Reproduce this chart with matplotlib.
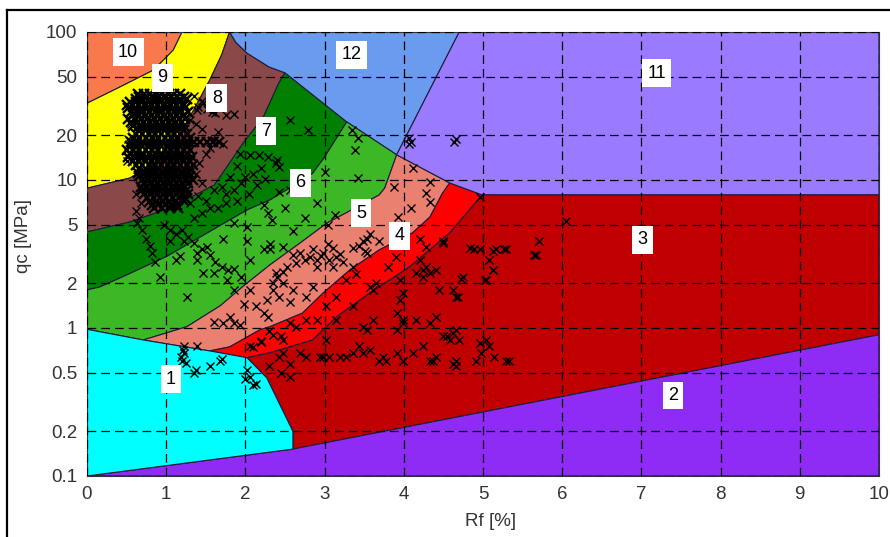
import matplotlib
matplotlib.use('Agg')
import matplotlib.pyplot as plt
from matplotlib.lines import Line2D
from matplotlib.ticker import FixedLocator, FixedFormatter, NullLocator

plt.rcParams['font.family'] = ['Liberation Sans', 'DejaVu Sans']

# zone boundaries (Rf [%], qc [MPa])
b_10_9 = [(0, 33), (0.42, 42.6), (0.84, 55.3), (1.09, 75.5), (1.2, 100)]
b_9_8 = [(0, 8.8), (0.54, 10.3), (0.92, 13.6), (1.17, 20.1), (1.36, 30.6),
         (1.55, 47.4), (1.70, 70), (1.80, 100)]
b_8_12 = [(1.80, 100), (1.88, 85), (2.02, 72), (2.30, 58), (2.50, 53)]
b_8_7 = [(0, 4.46), (0.54, 5.2), (1.05, 6.47), (1.61, 9.25), (1.97, 17.7),
         (2.23, 26.8), (2.42, 45), (2.50, 53)]
b_7_12 = [(2.50, 53), (3.28, 24.7)]
b_7_6 = [(0, 1.81), (0.16, 1.89), (0.50, 2.28), (1.01, 3.05), (2.02, 6.27),
         (2.31, 7.33), (2.56, 8.83), (2.85, 11.1), (3.0, 14.3), (3.28, 24.7)]
b_12_6 = [(3.28, 24.7), (3.91, 14.8)]
b_12_11 = [(3.91, 14.8), (4.70, 100)]
b_6_5 = [(0.71, 0.83), (1.26, 1.02), (1.68, 1.41), (1.99, 1.95), (2.31, 2.67),
         (2.69, 3.75), (3.03, 5.12), (3.34, 6.27), (3.69, 7.93), (3.76, 8.83),
         (3.91, 14.8)]
b_11_5 = [(3.91, 14.8), (4.58, 9.55)]
b_5_4 = [(1.55, 0.70), (1.80, 0.745), (2.18, 0.97), (2.31, 1.02), (2.72, 1.26),
         (2.98, 1.72), (3.32, 2.47), (3.69, 3.37), (4.11, 4.39), (4.33, 5.62),
         (4.49, 8.17), (4.58, 9.55)]
b_11_4 = [(4.58, 9.55), (4.99, 7.93)]
b_4_3 = [(2.02, 0.63), (2.31, 0.68), (2.56, 0.745), (2.85, 0.83), (2.98, 0.97),
         (3.15, 1.19), (3.57, 1.72), (4.07, 2.58), (4.58, 4.39), (4.99, 7.93)]
b_1_3 = [(2.27, 0.46), (2.6, 0.2), (2.6, 0.152)]
b_2_3 = [(2.6, 0.152), (10, 0.9)]

zones = {
    10: [(0, 100)] + b_10_9,
    9: b_10_9 + b_9_8[::-1],
    8: b_9_8 + b_8_12 + b_8_7[::-1],
    7: b_8_7 + b_7_12 + b_7_6[::-1],
    12: b_8_12 + b_7_12 + b_12_6 + b_12_11,
    6: [(0, 0.98)] + b_7_6 + b_12_6 + b_6_5[::-1],
    5: b_6_5 + b_11_5 + b_5_4[::-1],
    4: b_5_4 + b_11_4 + b_4_3[::-1],
    11: b_12_11 + [(10, 100), (10, 7.93)] + b_11_4[::-1] + b_11_5[::-1],
    3: b_4_3 + [(10, 7.93), (10, 0.9)] + b_2_3[::-1] + b_1_3[::-1],
    2: [(0, 0.1), (10, 0.1)] + b_2_3[::-1],
    1: [(0, 0.1)] + b_2_3[:1] + b_1_3[::-1] + [(2.02, 0.63), (1.55, 0.70), (0.71, 0.83), (0, 0.98)],
}

zone_colors = {
    1: '#00FFFF', 2: '#8E2BF5', 3: '#C00000', 4: '#FF0000', 5: '#EA8070',
    6: '#3CB826', 7: '#007F00', 8: '#8A4848', 9: '#FFFF00', 10: '#F7794C',
    11: '#9A7BFF', 12: '#6A9BEE',
}

# zone number labels
zone_labels = [('10', 0.52, 73), ('9', 0.95, 48.9), ('8', 1.64, 35.8),
               ('7', 2.26, 21.4), ('6', 2.69, 9.55), ('5', 3.46, 5.98),
               ('4', 3.95, 4.19), ('12', 3.34, 70), ('11', 7.19, 52.8),
               ('3', 7.01, 3.94), ('2', 7.40, 0.35), ('1', 1.06, 0.45)]

# CPT data, dense part (qc, list of Rf)
blob_rows = [
    (38, [0.65, 0.72, 0.80, 0.88, 0.95, 1.03, 1.10, 1.18]),
    (36.5, [0.66, 0.74, 0.82, 0.90, 0.98, 1.06, 1.14, 1.22]),
    (35, [0.62, 0.70, 0.78, 0.86, 0.94, 1.02, 1.10, 1.18, 1.26]),
    (33.5, [0.54, 0.62, 0.70, 0.78, 0.86, 0.94, 1.02, 1.10, 1.18]),
    (32, [0.50, 0.58, 0.66, 0.74, 0.82, 0.90, 0.98, 1.06, 1.14, 1.22]),
    (30.5, [0.52, 0.60, 0.68, 0.76, 0.84, 0.92, 1.00, 1.08, 1.16, 1.24]),
    (29, [0.55, 0.62, 0.70, 0.78, 0.86, 0.94, 1.02, 1.10, 1.18, 1.28]),
    (27.5, [0.58, 0.66, 0.74, 0.82, 0.90, 0.98, 1.06, 1.14, 1.22]),
    (26, [0.52, 0.60, 0.68, 0.76, 0.84, 0.92, 1.00, 1.08, 1.16, 1.24]),
    (24.5, [0.56, 0.64, 0.72, 0.80, 0.88, 0.96, 1.04, 1.12, 1.20]),
    (23, [0.58, 0.66, 0.74, 0.82, 0.90, 0.98, 1.06, 1.14, 1.22]),
    (21.7, [0.66, 0.74, 0.82, 0.90, 0.98, 1.06, 1.14, 1.22]),
    (20.5, [0.62, 0.70, 0.78, 0.86, 0.94, 1.02, 1.10, 1.18, 1.26]),
    (19.2, [0.58, 0.66, 0.74, 0.82, 0.90, 0.98, 1.06, 1.14, 1.22, 1.30]),
    (18, [0.55, 0.63, 0.71, 0.79, 0.87, 0.95, 1.03, 1.11, 1.19, 1.27, 1.35,
          1.43, 1.51, 1.59, 1.67]),
    (17, [0.54, 0.62, 0.70, 0.78, 0.86, 0.94, 1.02, 1.10, 1.18, 1.26]),
    (16, [0.50, 0.58, 0.66, 0.74, 0.82, 0.90, 0.98, 1.06, 1.14, 1.22, 1.30]),
    (15.1, [0.54, 0.62, 0.70, 0.78, 0.86, 0.94, 1.02, 1.10, 1.18, 1.26]),
    (14.2, [0.52, 0.60, 0.68, 0.76, 0.84, 0.92, 1.00, 1.08, 1.16, 1.24, 1.32]),
    (13.4, [0.58, 0.66, 0.74, 0.82, 0.90, 0.98, 1.06, 1.14, 1.22, 1.30]),
    (12.6, [0.62, 0.70, 0.78, 0.86, 0.94, 1.02, 1.10, 1.18, 1.26, 1.34]),
    (11.9, [0.66, 0.74, 0.82, 0.90, 0.98, 1.06, 1.14, 1.22, 1.30]),
    (11.2, [0.65, 0.73, 0.81, 0.89, 0.97, 1.05, 1.13, 1.21, 1.29]),
    (10.6, [0.66, 0.74, 0.82, 0.90, 0.98, 1.06, 1.14, 1.22, 1.30]),
    (10, [0.70, 0.78, 0.86, 0.94, 1.02, 1.10, 1.18, 1.26, 1.34]),
    (9.5, [0.72, 0.80, 0.88, 0.96, 1.04, 1.12, 1.20, 1.28]),
    (9, [0.68, 0.76, 0.84, 0.92, 1.00, 1.08, 1.16, 1.24]),
    (8.5, [0.70, 0.78, 0.86, 0.94, 1.02, 1.10, 1.18, 1.26]),
    (8, [0.72, 0.80, 0.88, 0.96, 1.04, 1.12, 1.20, 1.28]),
    (7.6, [0.76, 0.84, 0.92, 1.00, 1.08, 1.16, 1.24]),
    (7.2, [0.80, 0.88, 0.96, 1.04, 1.12, 1.22]),
    (6.8, [0.82, 0.90, 0.98, 1.06, 1.14]),
    (6.5, [0.85, 0.95, 1.05, 1.15]),
]

pts_zone8 = [(1.25, 36), (1.35, 37), (1.45, 34), (1.40, 31), (1.52, 30), (1.62, 28.5),
             (1.75, 27.5), (1.85, 28), (1.39, 29.7), (1.58, 28.9), (1.47, 33), (1.30, 25.5),
             (1.38, 24), (1.45, 22), (1.6, 18.5), (1.72, 17.5), (1.5, 15), (1.42, 13),
             (1.38, 11), (1.45, 9.5), (0.6, 28), (0.55, 24), (0.52, 19), (0.5, 13.5),
             (1.55, 16.5), (1.65, 21)]

pts_zone7 = [(1.93, 15.1), (2.06, 14.8), (2.17, 14.8), (2.29, 14.4), (2.40, 13.6),
             (2.42, 12.3), (2.39, 13.0), (2.56, 25.4), (2.79, 21.8), (2.43, 8.3),
             (2.56, 8.5), (2.65, 9.5), (0.62, 8.0), (0.68, 7.0), (0.62, 6.2), (0.66, 5.5),
             (0.63, 5.1), (0.70, 4.6), (0.75, 4.0), (0.80, 3.6), (0.82, 3.2), (0.86, 2.8),
             (1.2, 7.5), (1.3, 7.0), (1.4, 7.8), (1.5, 7.2), (1.55, 6.5), (1.45, 6.0),
             (1.35, 5.5), (1.6, 8.5), (1.7, 9.0), (1.75, 8.0), (1.85, 8.5), (1.95, 9.5),
             (2.0, 10.5), (2.1, 11), (2.2, 12), (1.9, 12.5), (2.25, 10.2), (1.8, 10.5),
             (2.05, 8.0), (1.65, 6.5), (1.75, 7.0), (1.9, 7.2), (2.15, 9.2)]

pts_zone6 = [(1.26, 1.63), (0.92, 2.2), (1.18, 3.05), (1.39, 2.9), (1.47, 2.35),
             (1.60, 2.35), (1.77, 2.1), (1.85, 1.8), (1.85, 2.5), (2.06, 2.9), (2.02, 3.9),
             (2.23, 3.4), (2.31, 3.4), (2.23, 6.8), (2.29, 6.0), (2.33, 5.4), (1.85, 5.1),
             (2.02, 4.85), (1.72, 4.0), (1.51, 3.55), (1.39, 3.2), (1.13, 2.9), (1.05, 3.9),
             (1.22, 3.9), (1.35, 3.75), (0.97, 5.0), (1.05, 4.6), (1.12, 4.3), (1.2, 4.6),
             (1.28, 4.1), (1.45, 3.4), (1.55, 3.1), (1.62, 2.8), (1.7, 2.6), (1.78, 2.45),
             (1.95, 2.2), (3.34, 21.8), (3.42, 19.1), (3.38, 15.9), (3.42, 10.3),
             (3.0, 11.4), (3.13, 5.8), (3.04, 5.0), (2.31, 3.7), (2.48, 3.55), (2.6, 4.5),
             (2.75, 5.5), (2.9, 7.0), (2.5, 6.5)]

pts_zone5 = [(2.69, 3.2), (2.81, 3.0), (2.90, 2.9), (2.98, 3.2), (3.06, 2.9), (3.15, 3.0),
             (3.23, 2.8), (2.85, 3.4), (3.11, 3.45), (3.04, 3.7), (2.64, 2.75), (2.52, 2.6),
             (2.39, 2.35), (2.35, 2.0), (2.48, 2.0), (2.60, 1.8), (2.43, 1.63), (2.56, 1.5),
             (2.77, 1.63), (2.85, 1.9), (3.36, 3.45), (3.44, 3.6), (3.48, 3.9), (3.51, 3.3),
             (1.60, 1.1), (1.72, 1.08), (1.85, 1.08), (1.93, 1.05), (1.81, 1.19),
             (1.98, 1.46), (2.06, 1.8), (2.14, 1.4), (2.23, 1.26), (2.29, 1.19), (2.35, 1.8),
             (2.40, 2.2), (2.48, 2.4), (2.27, 1.55), (3.88, 9.0), (4.11, 12.0), (4.33, 9.7),
             (4.28, 8.2), (4.33, 7.1), (4.09, 6.5), (3.93, 5.6), (3.53, 4.0), (2.75, 2.9),
             (2.95, 3.05), (3.2, 3.15), (2.6, 3.1), (2.9, 2.6), (3.1, 2.6)]

pts_zone4 = [(3.57, 4.35), (3.69, 3.9), (3.53, 3.2), (3.36, 2.6), (3.27, 2.1), (3.15, 1.63),
             (3.02, 1.4), (2.90, 1.13), (2.77, 1.13), (2.64, 1.02), (2.56, 1.08), (2.48, 0.83),
             (3.61, 1.8), (3.65, 2.0), (4.2, 4.0), (4.28, 3.55), (2.06, 0.75), (2.2, 0.8),
             (2.35, 0.9), (3.4, 2.3), (3.8, 2.6), (3.9, 3.0), (2.2, 0.82), (2.3, 0.95),
             (2.45, 0.88), (2.1, 0.74)]

pts_zone3 = [(4.20, 2.9), (4.24, 2.47), (4.28, 2.6), (4.33, 2.35), (4.16, 2.35), (4.41, 2.47),
             (4.49, 3.75), (4.75, 2.2), (4.62, 1.8), (4.66, 1.63), (3.99, 1.72), (3.95, 1.55),
             (3.57, 1.9), (3.36, 1.4), (3.61, 1.13), (3.53, 0.97), (3.15, 1.13), (3.02, 0.83),
             (2.94, 0.64), (3.06, 0.64), (3.19, 0.64), (3.27, 0.64), (3.36, 0.68), (3.44, 0.75),
             (3.57, 0.71), (3.74, 0.64), (3.78, 0.6), (3.91, 0.68), (3.99, 0.6), (4.11, 0.68),
             (4.33, 0.6), (4.41, 0.64), (4.62, 0.57), (4.58, 0.83), (4.49, 0.88), (4.66, 0.97),
             (4.41, 1.19), (4.33, 1.08), (4.16, 1.13), (3.99, 1.08), (3.91, 1.26), (2.48, 0.68),
             (2.56, 0.57), (2.43, 0.64), (2.69, 0.68), (2.77, 0.64), (2.56, 0.47), (4.96, 7.7),
             (6.05, 5.25), (4.83, 3.45), (4.89, 3.4), (4.96, 3.4), (5.17, 3.4), (5.27, 3.4),
             (5.71, 3.85), (5.65, 3.1), (5.08, 2.9), (5.13, 2.47), (5.02, 2.1), (4.72, 2.16),
             (4.68, 1.63), (4.70, 0.83), (5.04, 0.83), (5.08, 0.75), (4.98, 0.68), (4.91, 0.6),
             (5.14, 0.64), (5.33, 0.6), (4.66, 0.6), (3.99, 1.13), (4.62, 0.93), (4.37, 0.6),
             (4.66, 0.55), (3.69, 0.6), (3.49, 0.68), (2.98, 0.64), (3.49, 1.02), (3.91, 0.97),
             (4.24, 0.75), (4.54, 0.88), (4.96, 0.79), (5.29, 0.6), (4.49, 3.85), (5.12, 3.3),
             (5.29, 3.4), (5.67, 3.1), (5.12, 2.47), (5.04, 2.1), (4.24, 2.2), (4.45, 1.8),
             (3.95, 2.1), (2.3, 0.55), (2.45, 0.5)]

pts_zone1 = [(1.22, 0.68), (1.20, 0.6), (1.21, 0.71), (1.19, 0.64), (1.23, 0.76), (1.39, 0.75),
             (1.35, 0.5), (1.38, 0.52), (1.55, 0.55), (1.68, 0.6), (1.70, 0.62), (2.02, 0.52),
             (2.06, 0.47), (2.14, 0.42), (2.0, 0.45), (2.10, 0.41), (1.25, 0.58)]

pts_zone11 = [(4.07, 19.1), (4.09, 18.2), (4.64, 18.2), (4.66, 19.0), (4.07, 17.5)]

y_ticks = [0.1, 0.2, 0.5, 1, 2, 5, 10, 20, 50, 100]
y_tick_labels = ['0.1', '0.2', '0.5', '1', '2', '5', '10', '20', '50', '100']
x_ticks = list(range(0, 11))


def main():
    fig = plt.figure(figsize=(8.9, 5.37), dpi=100)
    ax = fig.add_axes([87 / 890, 1 - 476 / 537, 792 / 890, 444 / 537])

    # soil zones
    for z, poly in zones.items():
        xs = [p[0] for p in poly]
        ys = [p[1] for p in poly]
        ax.fill(xs, ys, facecolor=zone_colors[z], edgecolor='#1c1c3a',
                linewidth=0.8, zorder=1)

    # dense cluster: overlapping crosses
    blob_rf, blob_qc = [], []
    for q, row in blob_rows:
        blob_rf += row
        blob_qc += [q] * len(row)
    ax.plot(blob_rf, blob_qc, linestyle='none', marker='x', color='black',
            markersize=7, markeredgewidth=1.7, zorder=4)

    # remaining points
    rf, qc = [], []
    for pts in [pts_zone8, pts_zone7, pts_zone6, pts_zone5, pts_zone4,
                pts_zone3, pts_zone1, pts_zone11]:
        rf += [p[0] for p in pts]
        qc += [p[1] for p in pts]
    ax.plot(rf, qc, linestyle='none', marker='x', color='black',
            markersize=6, markeredgewidth=1.0, zorder=4)

    for txt, x, y in zone_labels:
        ax.text(x, y, txt, fontsize=13, ha='center', va='center', zorder=6,
                bbox=dict(boxstyle='square,pad=0.3', facecolor='white',
                          edgecolor='none'))

    ax.set_yscale('log')
    ax.set_xlim(0, 10)
    ax.set_ylim(0.1, 100)
    ax.yaxis.set_major_locator(FixedLocator(y_ticks))
    ax.yaxis.set_major_formatter(FixedFormatter(y_tick_labels))
    ax.yaxis.set_minor_locator(NullLocator())
    ax.set_xticks(x_ticks)
    ax.tick_params(length=0, labelsize=13.5, colors='#333333', pad=7)

    ax.grid(True, color='black', linestyle=(0, (7, 4)), linewidth=0.9, zorder=3)
    ax.set_axisbelow(False)
    for s in ax.spines.values():
        s.set_linewidth(0.8)
        s.set_color('#303040')

    ax.set_xlabel('Rf [%]', fontsize=13.5, color='#333333')
    ax.set_ylabel('qc [MPa]', fontsize=13.5, color='#333333')
    ax.xaxis.set_label_coords(0.51, -0.083)
    ax.yaxis.set_label_coords(-0.069, 0.54)

    # frame around the picture
    fig.add_artist(Line2D([7 / 890, 7 / 890], [0, 1 - 10 / 537], color='black',
                          linewidth=1.6, transform=fig.transFigure))
    fig.add_artist(Line2D([7 / 890, 1], [1 - 10 / 537, 1 - 10 / 537], color='black',
                          linewidth=1.6, transform=fig.transFigure))

    fig.savefig('out.png', dpi=100)


if __name__ == "__main__":
    main()
